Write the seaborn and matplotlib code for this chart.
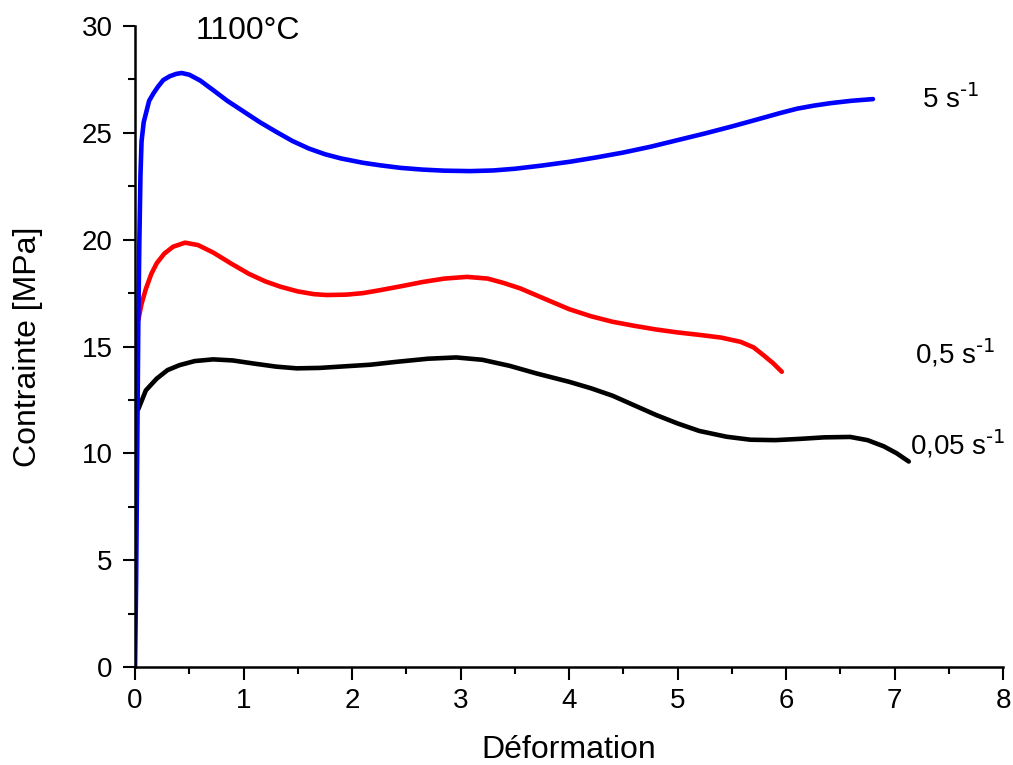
import matplotlib
matplotlib.use("Agg")
import matplotlib.pyplot as plt
import seaborn as sns
import pandas as pd
from matplotlib.ticker import MultipleLocator

# ---- data ----
blue_x = [0, 0.01, 0.02, 0.03, 0.04, 0.05, 0.06, 0.08, 0.1, 0.13, 0.17, 0.21, 0.26, 0.32, 0.38,
          0.43, 0.5, 0.6, 0.72, 0.85, 1.0, 1.15, 1.3, 1.45, 1.6, 1.75, 1.9, 2.1, 2.26, 2.45,
          2.65, 2.85, 3.09, 3.3, 3.5, 3.75, 4.01, 4.25, 4.5, 4.75, 5.0, 5.25, 5.5, 5.75, 5.94,
          6.1, 6.25, 6.41, 6.6, 6.8]
blue_y = [0, 4, 10, 16, 20, 23, 24.6, 25.5, 25.9, 26.5, 26.85, 27.15, 27.47, 27.65, 27.76,
          27.8, 27.72, 27.45, 27.0, 26.5, 26.0, 25.5, 25.05, 24.62, 24.27, 24.0, 23.8, 23.6,
          23.48, 23.36, 23.28, 23.23, 23.21, 23.24, 23.32, 23.47, 23.65, 23.85, 24.08, 24.35,
          24.66, 24.97, 25.3, 25.65, 25.92, 26.13, 26.27, 26.39, 26.5, 26.58]

red_x = [0.03, 0.06, 0.1, 0.15, 0.2, 0.27, 0.35, 0.46, 0.58, 0.72, 0.88, 1.05, 1.2, 1.34, 1.5,
         1.65, 1.77, 1.95, 2.1, 2.26, 2.45, 2.65, 2.85, 3.06, 3.25, 3.4, 3.55, 3.8, 4.0, 4.2,
         4.4, 4.6, 4.8, 5.0, 5.21, 5.4, 5.58, 5.7, 5.79, 5.88, 5.96]
red_y = [16.24, 17.0, 17.7, 18.4, 18.9, 19.35, 19.67, 19.86, 19.75, 19.4, 18.9, 18.4, 18.05,
         17.8, 17.58, 17.45, 17.41, 17.43, 17.5, 17.64, 17.82, 18.02, 18.18, 18.26, 18.18, 17.97,
         17.72, 17.18, 16.75, 16.42, 16.16, 15.97, 15.8, 15.66, 15.54, 15.42, 15.22, 14.96,
         14.6, 14.22, 13.82]

black_x = [0.03, 0.1, 0.2, 0.3, 0.41, 0.55, 0.72, 0.9, 1.1, 1.3, 1.49, 1.7, 1.95, 2.17, 2.4,
           2.7, 2.96, 3.2, 3.45, 3.7, 4.0, 4.2, 4.4, 4.6, 4.8, 5.0, 5.2, 5.45, 5.67, 5.9, 6.13,
           6.35, 6.59, 6.75, 6.9, 7.02, 7.13]
black_y = [12.07, 12.95, 13.5, 13.9, 14.13, 14.32, 14.4, 14.35, 14.2, 14.06, 13.98, 14.0, 14.08,
           14.15, 14.28, 14.43, 14.49, 14.38, 14.1, 13.74, 13.35, 13.05, 12.7, 12.25, 11.8,
           11.4, 11.05, 10.78, 10.64, 10.62, 10.68, 10.75, 10.77, 10.62, 10.33, 10.0, 9.62]

series_names = ["0,05", "0,5", "5"]
series_colors = ["#000000", "#ff0000", "#0000ff"]
label_texts = [r"0,05 s$^{\text{-1}}$", r"0,5 s$^{\text{-1}}$", r"5 s$^{\text{-1}}$"]
label_pos = [(7.14, 10.4), (7.19, 14.7), (7.25, 26.55)]

x_ticks = [0, 1, 2, 3, 4, 5, 6, 7, 8]
y_ticks = [0, 5, 10, 15, 20, 25, 30]

frames = []
for name, xs, ys in zip(series_names, [black_x, red_x, blue_x], [black_y, red_y, blue_y]):
    frames.append(pd.DataFrame({"strain": xs, "stress": ys, "rate": name}))
df = pd.concat(frames, ignore_index=True)

# ---- style ----
sns.set_theme(style="ticks")
plt.rcParams["font.family"] = ["Liberation Sans", "DejaVu Sans"]
plt.rcParams["mathtext.default"] = "regular"
plt.rcParams["text.color"] = "black"
plt.rcParams["axes.labelcolor"] = "black"

fig = plt.figure(figsize=(10.13, 7.65), dpi=100)
ax = fig.add_axes([0.1333, 0.128, 0.857, 0.838])

sns.lineplot(data=df, x="strain", y="stress", hue="rate", hue_order=series_names,
             palette=series_colors, sort=False, estimator=None, units="rate",
             linewidth=3.3, legend=False, ax=ax)

ax.set_xlim(0, 8)
ax.set_ylim(0, 30)
ax.set_xticks(x_ticks)
ax.set_yticks(y_ticks)
ax.xaxis.set_minor_locator(MultipleLocator(0.5))
ax.yaxis.set_minor_locator(MultipleLocator(2.5))
ax.tick_params(which="major", direction="out", length=9, width=1.5, labelsize=20,
               colors="black", pad=6)
ax.tick_params(axis="y", which="major", pad=7)
ax.tick_params(which="minor", direction="out", length=5, width=1.5, colors="black")
for s in ["top", "right"]:
    ax.spines[s].set_visible(False)
for s in ["left", "bottom"]:
    ax.spines[s].set_linewidth(1.8)
    ax.spines[s].set_color("black")

ax.set_xlabel("Déformation", fontsize=23, labelpad=15)
ax.set_ylabel("Contrainte [MPa]", fontsize=23, labelpad=28)

ax.text(0.56, 29.75, "1100°C", fontsize=23, ha="left", va="center")
for t, (px, py) in zip(label_texts, label_pos):
    ax.text(px, py, t, fontsize=20, ha="left", va="center", clip_on=False)

fig.savefig("out.png", dpi=100, facecolor="white")
